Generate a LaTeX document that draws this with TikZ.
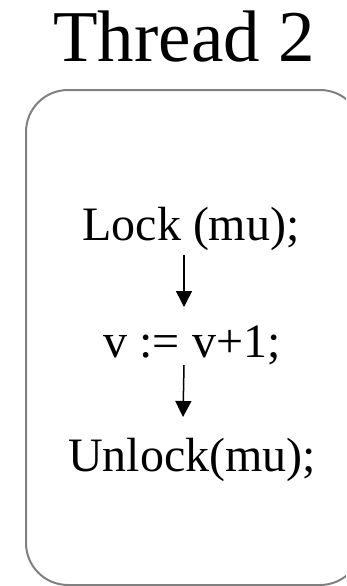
\documentclass[tikz,border=0pt]{standalone}
\usepackage{fontspec}
\setmainfont{Liberation Serif}
\usetikzlibrary{arrows.meta}
\begin{document}
\begin{tikzpicture}[x=1pt,y=1pt,
  txt/.style={anchor=base,inner sep=0pt,font=\fontsize{48}{58}\selectfont},
  ttl/.style={anchor=base,inner sep=0pt,font=\fontsize{73}{88}\selectfont},
  frame/.style={draw=black!50,line width=2pt,rounded corners=42pt},
  flow/.style={draw=black,line width=1.5pt,-{Triangle[width=16pt,length=16pt]}}]
\useasboundingbox (0,0) rectangle (346,-586);
\clip (0,0) rectangle (346,-586);
\fill[white] (0,0) rectangle (346,-586);
\node[ttl] (title) at (184,-62) {Thread 2};
\draw[frame] (26,-90) rectangle (362,-585);
\node[txt] (lock) at (191,-240) {Lock (mu);};
\node[txt] (assign) at (192,-357) {v := v+1;};
\node[txt] (unlock) at (192,-471) {Unlock(mu);};
\draw[flow] ([xshift=-7pt,yshift=-15pt]lock.base) -- ([xshift=-8pt,yshift=50pt]assign.base);
\draw[flow] ([xshift=-8pt,yshift=-8pt]assign.base) -- ([xshift=-9pt,yshift=54pt]unlock.base);
\end{tikzpicture}
\end{document}
